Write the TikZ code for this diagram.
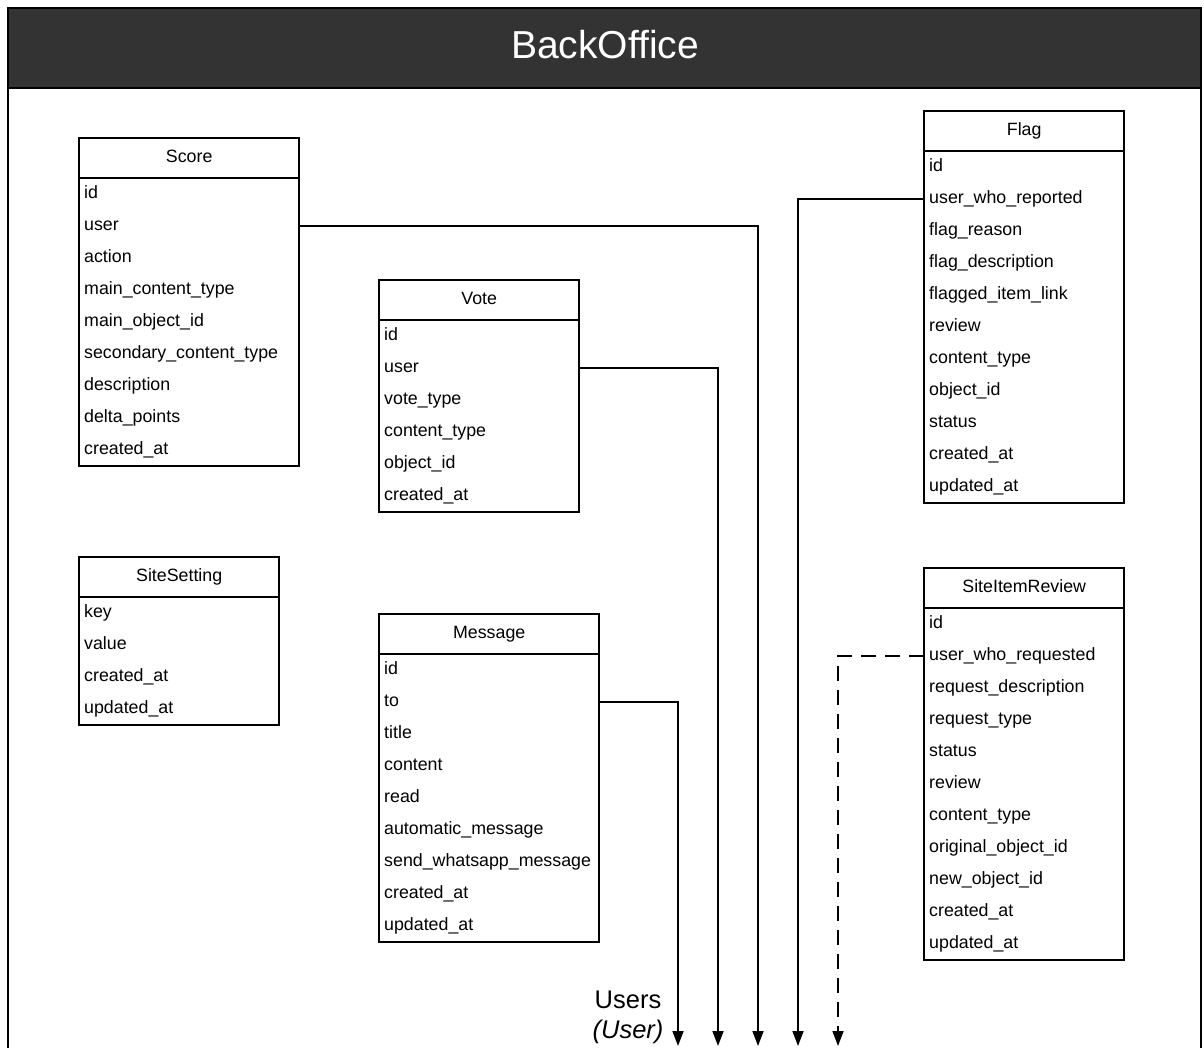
\documentclass[tikz,border=0pt]{standalone}
\usepackage{fontspec}
\setmainfont{Liberation Sans}
\usetikzlibrary{arrows.meta}

\tikzset{
  erline/.style={draw=black, line width=1.8pt},
  ertitle/.style={inner sep=0pt, minimum height=40pt, text height=13pt, text depth=5pt,
    font=\fontsize{17.8}{21}\selectfont},
  erfield/.style={inner xsep=5pt, inner ysep=0pt, minimum height=32pt, text height=13pt,
    text depth=5pt, font=\fontsize{17.8}{21}\selectfont},
  link/.style={draw=black, line width=1.6pt, -{Triangle[length=15pt,width=11pt]}},
  optlink/.style={link, dash pattern=on 15pt off 9pt},
  frameline/.style={draw=black, line width=2pt},
}

% entity box: #1 name, #2 left, #3 top, #4 width, #5 title, #6 number of fields, #7 fields
\newcommand\erentity[7]{%
  \node[ertitle, minimum width=#4pt, anchor=north west] (#1) at (#2,#3) {#5};
  \foreach \f [count=\i] in {#7} {
    \node[erfield, anchor=north west] (#1-\i) at ({#2},{#3+40+32*(\i-1)})
      {\makebox[\dimexpr#4pt-10pt\relax][l]{\f}};
  }
  \draw[erline] (#2,#3) rectangle ++(#4,{40+32*#6});
  \draw[erline] (#2,{#3+40}) -- ++(#4,0);
}

\begin{document}
\begin{tikzpicture}[x=1pt, y=-1pt]
  \useasboundingbox (0,0) rectangle (1204,1047);
  \clip (0,0) rectangle (1204,1047);

  % outer frame with header band
  \fill[fill=white] (0,0) rectangle (1204,1047);
  \draw[frameline] (8,1060) -- (8,8) -- (1201,8) -- (1201,1060);
  \draw[frameline, fill={rgb,255:red,51;green,51;blue,51}] (8,8) rectangle (1201,88);
  \node[anchor=base, text=white, font=\fontsize{39}{44}\selectfont] (header) at (605,58) {BackOffice};

  \erentity{score}{79}{138}{220}{Score}{9}{id, user, action, main\_content\_type, main\_object\_id,
    secondary\_content\_type, description, delta\_points, created\_at}
  \erentity{vote}{379}{280}{200}{Vote}{6}{id, user, vote\_type, content\_type, object\_id, created\_at}
  \erentity{flag}{924}{111}{200}{Flag}{11}{id, user\_who\_reported, flag\_reason, flag\_description,
    flagged\_item\_link, review, content\_type, object\_id, status, created\_at, updated\_at}
  \erentity{setting}{79}{557}{200}{SiteSetting}{4}{key, value, created\_at, updated\_at}
  \erentity{message}{379}{614}{220}{Message}{9}{id, to, title, content, read, automatic\_message,
    send\_whatsapp\_message, created\_at, updated\_at}
  \erentity{review}{924}{568}{200}{SiteItemReview}{11}{id, user\_who\_requested, request\_description,
    request\_type, status, review, content\_type, original\_object\_id, new\_object\_id,
    created\_at, updated\_at}

  % references into the Users app
  \coordinate (uMessage) at (678,1046);
  \coordinate (uVote) at (718,1046);
  \coordinate (uScore) at (758,1046);
  \coordinate (uFlag) at (798,1046);
  \coordinate (uReview) at (838,1046);

  \draw[link] (message-2.east) -| (uMessage);
  \draw[link] (vote-2.east) -| (uVote);
  \draw[link] (score-2.east) -| (uScore);
  \draw[link] (flag-2.west) -| (uFlag);
  \draw[optlink] (review-2.west) -| (uReview);

  \node[align=center, font=\fontsize{25.5}{30}\selectfont, anchor=base] (users) at (628,1038)
    {Users\\\textit{(User)}};
\end{tikzpicture}
\end{document}
